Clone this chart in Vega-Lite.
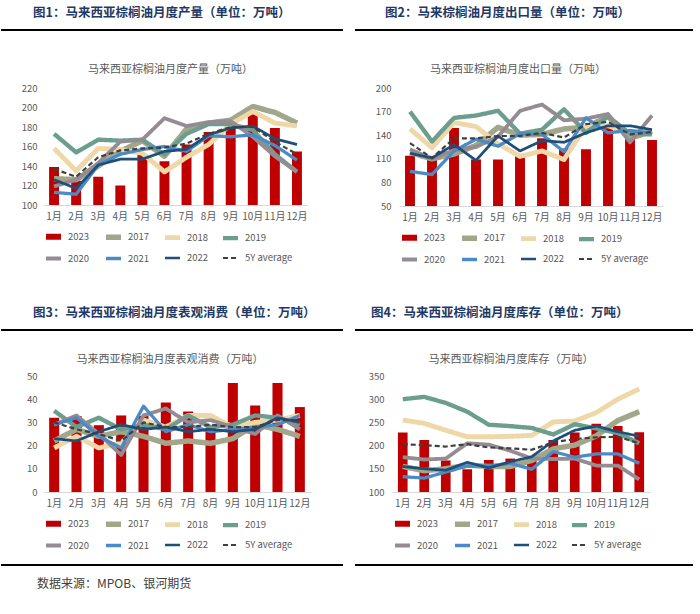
{
"$schema": "https://vega.github.io/schema/vega-lite/v6.json",
"padding": {"left": 0, "top": 6, "right": 0, "bottom": 0},
"background": "white",
"config": {
  "font": "Noto Sans CJK SC",
  "view": {"stroke": null},
  "title": {"font": "Noto Sans CJK SC", "fontSize": 12.5, "fontWeight": "bold", "color": "#1F3864"},
  "axis": {"labelFont": "Noto Sans CJK SC"},
  "legend": {"orient": "bottom", "direction": "horizontal", "columns": 4, "symbolType": "stroke", "symbolSize": 225, "labelFontSize": 9.5, "labelColor": "#595959", "labelOffset": 4, "columnPadding": 5, "rowPadding": 0, "offset": 5, "labelFont": "Noto Sans CJK SC", "title": null}
},
"datasets": {
  "prod": [
    {"m":"1月","s":"2023","v":139},{"m":"2月","s":"2023","v":125},{"m":"3月","s":"2023","v":129},{"m":"4月","s":"2023","v":120},{"m":"5月","s":"2023","v":152},{"m":"6月","s":"2023","v":145},{"m":"7月","s":"2023","v":162},{"m":"8月","s":"2023","v":175},{"m":"9月","s":"2023","v":182},{"m":"10月","s":"2023","v":193},{"m":"11月","s":"2023","v":179},{"m":"12月","s":"2023","v":155},
    {"m":"1月","s":"2017","v":127},{"m":"2月","s":"2017","v":126},{"m":"3月","s":"2017","v":140},{"m":"4月","s":"2017","v":155},{"m":"5月","s":"2017","v":166},{"m":"6月","s":"2017","v":150},{"m":"7月","s":"2017","v":178},{"m":"8月","s":"2017","v":184},{"m":"9月","s":"2017","v":187},{"m":"10月","s":"2017","v":201},{"m":"11月","s":"2017","v":195},{"m":"12月","s":"2017","v":184},
    {"m":"1月","s":"2018","v":158},{"m":"2月","s":"2018","v":135},{"m":"3月","s":"2018","v":158},{"m":"4月","s":"2018","v":157},{"m":"5月","s":"2018","v":153},{"m":"6月","s":"2018","v":134},{"m":"7月","s":"2018","v":149},{"m":"8月","s":"2018","v":162},{"m":"9月","s":"2018","v":183},{"m":"10月","s":"2018","v":196},{"m":"11月","s":"2018","v":184},{"m":"12月","s":"2018","v":181},
    {"m":"1月","s":"2019","v":173},{"m":"2月","s":"2019","v":154},{"m":"3月","s":"2019","v":167},{"m":"4月","s":"2019","v":166},{"m":"5月","s":"2019","v":167},{"m":"6月","s":"2019","v":152},{"m":"7月","s":"2019","v":173},{"m":"8月","s":"2019","v":183},{"m":"9月","s":"2019","v":183},{"m":"10月","s":"2019","v":177},{"m":"11月","s":"2019","v":152},{"m":"12月","s":"2019","v":134},
    {"m":"1月","s":"2020","v":119},{"m":"2月","s":"2020","v":126},{"m":"3月","s":"2020","v":143},{"m":"4月","s":"2020","v":165},{"m":"5月","s":"2020","v":167},{"m":"6月","s":"2020","v":189},{"m":"7月","s":"2020","v":181},{"m":"8月","s":"2020","v":185},{"m":"9月","s":"2020","v":186},{"m":"10月","s":"2020","v":170},{"m":"11月","s":"2020","v":150},{"m":"12月","s":"2020","v":134},
    {"m":"1月","s":"2021","v":113},{"m":"2月","s":"2021","v":111},{"m":"3月","s":"2021","v":141},{"m":"4月","s":"2021","v":152},{"m":"5月","s":"2021","v":157},{"m":"6月","s":"2021","v":160},{"m":"7月","s":"2021","v":155},{"m":"8月","s":"2021","v":171},{"m":"9月","s":"2021","v":170},{"m":"10月","s":"2021","v":172},{"m":"11月","s":"2021","v":161},{"m":"12月","s":"2021","v":146},
    {"m":"1月","s":"2022","v":126},{"m":"2月","s":"2022","v":117},{"m":"3月","s":"2022","v":141},{"m":"4月","s":"2022","v":147},{"m":"5月","s":"2022","v":147},{"m":"6月","s":"2022","v":155},{"m":"7月","s":"2022","v":157},{"m":"8月","s":"2022","v":172},{"m":"9月","s":"2022","v":179},{"m":"10月","s":"2022","v":181},{"m":"11月","s":"2022","v":168},{"m":"12月","s":"2022","v":162},
    {"m":"1月","s":"5Y average","v":137},{"m":"2月","s":"5Y average","v":129},{"m":"3月","s":"5Y average","v":149},{"m":"4月","s":"5Y average","v":156},{"m":"5月","s":"5Y average","v":158},{"m":"6月","s":"5Y average","v":159},{"m":"7月","s":"5Y average","v":163},{"m":"8月","s":"5Y average","v":173},{"m":"9月","s":"5Y average","v":180},{"m":"10月","s":"5Y average","v":180},{"m":"11月","s":"5Y average","v":165},{"m":"12月","s":"5Y average","v":152}
  ],
  "exp": [
    {"m":"1月","s":"2023","v":114},{"m":"2月","s":"2023","v":110},{"m":"3月","s":"2023","v":149},{"m":"4月","s":"2023","v":109},{"m":"5月","s":"2023","v":109},{"m":"6月","s":"2023","v":116},{"m":"7月","s":"2023","v":136},{"m":"8月","s":"2023","v":123},{"m":"9月","s":"2023","v":122},{"m":"10月","s":"2023","v":149},{"m":"11月","s":"2023","v":138},{"m":"12月","s":"2023","v":134},
    {"m":"1月","s":"2017","v":118},{"m":"2月","s":"2017","v":110},{"m":"3月","s":"2017","v":116},{"m":"4月","s":"2017","v":127},{"m":"5月","s":"2017","v":150},{"m":"6月","s":"2017","v":140},{"m":"7月","s":"2017","v":141},{"m":"8月","s":"2017","v":148},{"m":"9月","s":"2017","v":150},{"m":"10月","s":"2017","v":164},{"m":"11月","s":"2017","v":136},{"m":"12月","s":"2017","v":145},
    {"m":"1月","s":"2018","v":148},{"m":"2月","s":"2018","v":124},{"m":"3月","s":"2018","v":156},{"m":"4月","s":"2018","v":151},{"m":"5月","s":"2018","v":129},{"m":"6月","s":"2018","v":113},{"m":"7月","s":"2018","v":120},{"m":"8月","s":"2018","v":109},{"m":"9月","s":"2018","v":152},{"m":"10月","s":"2018","v":152},{"m":"11月","s":"2018","v":143},{"m":"12月","s":"2018","v":143},
    {"m":"1月","s":"2019","v":170},{"m":"2月","s":"2019","v":132},{"m":"3月","s":"2019","v":162},{"m":"4月","s":"2019","v":165},{"m":"5月","s":"2019","v":171},{"m":"6月","s":"2019","v":142},{"m":"7月","s":"2019","v":147},{"m":"8月","s":"2019","v":173},{"m":"9月","s":"2019","v":143},{"m":"10月","s":"2019","v":164},{"m":"11月","s":"2019","v":142},{"m":"12月","s":"2019","v":141},
    {"m":"1月","s":"2020","v":122},{"m":"2月","s":"2020","v":110},{"m":"3月","s":"2020","v":121},{"m":"4月","s":"2020","v":125},{"m":"5月","s":"2020","v":138},{"m":"6月","s":"2020","v":171},{"m":"7月","s":"2020","v":179},{"m":"8月","s":"2020","v":159},{"m":"9月","s":"2020","v":161},{"m":"10月","s":"2020","v":167},{"m":"11月","s":"2020","v":131},{"m":"12月","s":"2020","v":165},
    {"m":"1月","s":"2021","v":94},{"m":"2月","s":"2021","v":90},{"m":"3月","s":"2021","v":120},{"m":"4月","s":"2021","v":135},{"m":"5月","s":"2021","v":126},{"m":"6月","s":"2021","v":142},{"m":"7月","s":"2021","v":141},{"m":"8月","s":"2021","v":119},{"m":"9月","s":"2021","v":162},{"m":"10月","s":"2021","v":143},{"m":"11月","s":"2021","v":146},{"m":"12月","s":"2021","v":143},
    {"m":"1月","s":"2022","v":117},{"m":"2月","s":"2022","v":111},{"m":"3月","s":"2022","v":128},{"m":"4月","s":"2022","v":108},{"m":"5月","s":"2022","v":139},{"m":"6月","s":"2022","v":120},{"m":"7月","s":"2022","v":133},{"m":"8月","s":"2022","v":131},{"m":"9月","s":"2022","v":143},{"m":"10月","s":"2022","v":152},{"m":"11月","s":"2022","v":152},{"m":"12月","s":"2022","v":147},
    {"m":"1月","s":"5Y average","v":130},{"m":"2月","s":"5Y average","v":111},{"m":"3月","s":"5Y average","v":136},{"m":"4月","s":"5Y average","v":136},{"m":"5月","s":"5Y average","v":139},{"m":"6月","s":"5Y average","v":139},{"m":"7月","s":"5Y average","v":143},{"m":"8月","s":"5Y average","v":137},{"m":"9月","s":"5Y average","v":154},{"m":"10月","s":"5Y average","v":157},{"m":"11月","s":"5Y average","v":141},{"m":"12月","s":"5Y average","v":144}
  ],
  "cons": [
    {"m":"1月","s":"2023","v":32},{"m":"2月","s":"2023","v":32.8},{"m":"3月","s":"2023","v":28.8},{"m":"4月","s":"2023","v":33},{"m":"5月","s":"2023","v":32.8},{"m":"6月","s":"2023","v":38.6},{"m":"7月","s":"2023","v":34.7},{"m":"8月","s":"2023","v":27.8},{"m":"9月","s":"2023","v":47},{"m":"10月","s":"2023","v":37.3},{"m":"11月","s":"2023","v":47},{"m":"12月","s":"2023","v":36.6},
    {"m":"1月","s":"2017","v":22},{"m":"2月","s":"2017","v":27},{"m":"3月","s":"2017","v":24},{"m":"4月","s":"2017","v":26},{"m":"5月","s":"2017","v":24},{"m":"6月","s":"2017","v":21},{"m":"7月","s":"2017","v":22},{"m":"8月","s":"2017","v":21},{"m":"9月","s":"2017","v":23},{"m":"10月","s":"2017","v":29},{"m":"11月","s":"2017","v":27},{"m":"12月","s":"2017","v":24},
    {"m":"1月","s":"2018","v":19},{"m":"2月","s":"2018","v":24},{"m":"3月","s":"2018","v":19},{"m":"4月","s":"2018","v":21},{"m":"5月","s":"2018","v":31},{"m":"6月","s":"2018","v":28},{"m":"7月","s":"2018","v":33},{"m":"8月","s":"2018","v":33},{"m":"9月","s":"2018","v":28},{"m":"10月","s":"2018","v":30},{"m":"11月","s":"2018","v":31},{"m":"12月","s":"2018","v":33},
    {"m":"1月","s":"2019","v":35},{"m":"2月","s":"2019","v":28},{"m":"3月","s":"2019","v":32},{"m":"4月","s":"2019","v":27},{"m":"5月","s":"2019","v":29},{"m":"6月","s":"2019","v":27},{"m":"7月","s":"2019","v":33},{"m":"8月","s":"2019","v":28},{"m":"9月","s":"2019","v":29},{"m":"10月","s":"2019","v":33},{"m":"11月","s":"2019","v":32},{"m":"12月","s":"2019","v":29},
    {"m":"1月","s":"2020","v":29},{"m":"2月","s":"2020","v":33},{"m":"3月","s":"2020","v":25},{"m":"4月","s":"2020","v":16},{"m":"5月","s":"2020","v":33},{"m":"6月","s":"2020","v":36},{"m":"7月","s":"2020","v":30},{"m":"8月","s":"2020","v":31},{"m":"9月","s":"2020","v":28},{"m":"10月","s":"2020","v":25},{"m":"11月","s":"2020","v":33},{"m":"12月","s":"2020","v":27},
    {"m":"1月","s":"2021","v":29},{"m":"2月","s":"2021","v":32},{"m":"3月","s":"2021","v":24},{"m":"4月","s":"2021","v":19},{"m":"5月","s":"2021","v":37},{"m":"6月","s":"2021","v":26},{"m":"7月","s":"2021","v":29},{"m":"8月","s":"2021","v":26},{"m":"9月","s":"2021","v":27},{"m":"10月","s":"2021","v":28},{"m":"11月","s":"2021","v":29},{"m":"12月","s":"2021","v":33},
    {"m":"1月","s":"2022","v":23},{"m":"2月","s":"2022","v":22},{"m":"3月","s":"2022","v":26},{"m":"4月","s":"2022","v":29},{"m":"5月","s":"2022","v":27},{"m":"6月","s":"2022","v":28},{"m":"7月","s":"2022","v":26},{"m":"8月","s":"2022","v":27},{"m":"9月","s":"2022","v":26},{"m":"10月","s":"2022","v":27},{"m":"11月","s":"2022","v":32},{"m":"12月","s":"2022","v":30},
    {"m":"1月","s":"5Y average","v":30},{"m":"2月","s":"5Y average","v":27},{"m":"3月","s":"5Y average","v":25},{"m":"4月","s":"5Y average","v":22},{"m":"5月","s":"5Y average","v":30},{"m":"6月","s":"5Y average","v":28},{"m":"7月","s":"5Y average","v":28},{"m":"8月","s":"5Y average","v":29},{"m":"9月","s":"5Y average","v":28},{"m":"10月","s":"5Y average","v":28},{"m":"11月","s":"5Y average","v":31},{"m":"12月","s":"5Y average","v":31}
  ],
  "stock": [
    {"m":"1月","s":"2023","v":228},{"m":"2月","s":"2023","v":212},{"m":"3月","s":"2023","v":168},{"m":"4月","s":"2023","v":149},{"m":"5月","s":"2023","v":169},{"m":"6月","s":"2023","v":172},{"m":"7月","s":"2023","v":170},{"m":"8月","s":"2023","v":212},{"m":"9月","s":"2023","v":228},{"m":"10月","s":"2023","v":247},{"m":"11月","s":"2023","v":242},{"m":"12月","s":"2023","v":229},
    {"m":"1月","s":"2017","v":155},{"m":"2月","s":"2017","v":146},{"m":"3月","s":"2017","v":150},{"m":"4月","s":"2017","v":158},{"m":"5月","s":"2017","v":155},{"m":"6月","s":"2017","v":155},{"m":"7月","s":"2017","v":168},{"m":"8月","s":"2017","v":193},{"m":"9月","s":"2017","v":201},{"m":"10月","s":"2017","v":221},{"m":"11月","s":"2017","v":254},{"m":"12月","s":"2017","v":273},
    {"m":"1月","s":"2018","v":255},{"m":"2月","s":"2018","v":248},{"m":"3月","s":"2018","v":233},{"m":"4月","s":"2018","v":219},{"m":"5月","s":"2018","v":219},{"m":"6月","s":"2018","v":220},{"m":"7月","s":"2018","v":222},{"m":"8月","s":"2018","v":251},{"m":"9月","s":"2018","v":253},{"m":"10月","s":"2018","v":271},{"m":"11月","s":"2018","v":300},{"m":"12月","s":"2018","v":322},
    {"m":"1月","s":"2019","v":300},{"m":"2月","s":"2019","v":305},{"m":"3月","s":"2019","v":292},{"m":"4月","s":"2019","v":273},{"m":"5月","s":"2019","v":245},{"m":"6月","s":"2019","v":242},{"m":"7月","s":"2019","v":238},{"m":"8月","s":"2019","v":224},{"m":"9月","s":"2019","v":246},{"m":"10月","s":"2019","v":237},{"m":"11月","s":"2019","v":227},{"m":"12月","s":"2019","v":205},
    {"m":"1月","s":"2020","v":175},{"m":"2月","s":"2020","v":170},{"m":"3月","s":"2020","v":172},{"m":"4月","s":"2020","v":205},{"m":"5月","s":"2020","v":202},{"m":"6月","s":"2020","v":189},{"m":"7月","s":"2020","v":172},{"m":"8月","s":"2020","v":171},{"m":"9月","s":"2020","v":172},{"m":"10月","s":"2020","v":157},{"m":"11月","s":"2020","v":157},{"m":"12月","s":"2020","v":127},
    {"m":"1月","s":"2021","v":133},{"m":"2月","s":"2021","v":130},{"m":"3月","s":"2021","v":143},{"m":"4月","s":"2021","v":156},{"m":"5月","s":"2021","v":156},{"m":"6月","s":"2021","v":162},{"m":"7月","s":"2021","v":149},{"m":"8月","s":"2021","v":187},{"m":"9月","s":"2021","v":175},{"m":"10月","s":"2021","v":182},{"m":"11月","s":"2021","v":182},{"m":"12月","s":"2021","v":162},
    {"m":"1月","s":"2022","v":155},{"m":"2月","s":"2022","v":150},{"m":"3月","s":"2022","v":147},{"m":"4月","s":"2022","v":164},{"m":"5月","s":"2022","v":152},{"m":"6月","s":"2022","v":165},{"m":"7月","s":"2022","v":176},{"m":"8月","s":"2022","v":210},{"m":"9月","s":"2022","v":233},{"m":"10月","s":"2022","v":242},{"m":"11月","s":"2022","v":230},{"m":"12月","s":"2022","v":220},
    {"m":"1月","s":"5Y average","v":203},{"m":"2月","s":"5Y average","v":201},{"m":"3月","s":"5Y average","v":198},{"m":"4月","s":"5Y average","v":203},{"m":"5月","s":"5Y average","v":196},{"m":"6月","s":"5Y average","v":194},{"m":"7月","s":"5Y average","v":191},{"m":"8月","s":"5Y average","v":207},{"m":"9月","s":"5Y average","v":214},{"m":"10月","s":"5Y average","v":218},{"m":"11月","s":"5Y average","v":219},{"m":"12月","s":"5Y average","v":205}
  ],
  "line": [{"a": 0, "b": 1, "c": 0.5}]
},
"title": {"text": "数据来源：MPOB、银河期货", "orient": "bottom", "anchor": "start", "dx": 37, "offset": 13, "fontSize": 12, "fontWeight": "normal", "color": "#404040"},
"spacing": 38,
"align": "none",
"resolve": {"scale": {"color": "independent", "strokeDash": "independent", "strokeWidth": "independent"}, "legend": {"color": "independent", "strokeDash": "independent", "strokeWidth": "independent"}},
"vconcat": [
  {"spacing": 33,
   "align": "none",
   "resolve": {"scale": {"color": "independent", "strokeDash": "independent", "strokeWidth": "independent"}, "legend": {"color": "independent", "strokeDash": "independent", "strokeWidth": "independent"}},
   "vconcat": [
    {"spacing": 10, "hconcat": [
      {"width": 300, "height": 2, "title": {"text": "图1：马来西亚棕榈油月度产量（单位：万吨）", "anchor": "start", "frame": "group", "dx": -10, "offset": 10},
       "data": {"name": "line"}, "mark": {"type": "rule", "color": "#000000", "strokeWidth": 2},
       "encoding": {"x": {"field": "a", "type": "quantitative", "scale": {"domain": [0.122807, 1], "zero": false, "nice": false}, "axis": null}, "x2": {"field": "b"}, "y": {"field": "c", "type": "quantitative", "scale": {"domain": [0, 1], "nice": false}, "axis": null}}},
      {"width": 338, "height": 2, "title": {"text": "图2：马来棕榈油月度出口量（单位：万吨）", "anchor": "start", "frame": "group", "dx": 30, "offset": 10},
       "data": {"name": "line"}, "mark": {"type": "rule", "color": "#000000", "strokeWidth": 2},
       "encoding": {"x": {"field": "a", "type": "quantitative", "scale": {"domain": [0, 1], "nice": false}, "axis": null}, "x2": {"field": "b"}, "y": {"field": "c", "type": "quantitative", "scale": {"domain": [0, 1], "nice": false}, "axis": null}}}
    ]},
    {"spacing": 46,
     "resolve": {"scale": {"color": "independent", "strokeDash": "independent", "strokeWidth": "independent"}, "legend": {"color": "independent", "strokeDash": "independent", "strokeWidth": "independent"}},
     "hconcat": [
      {"width": 265, "height": 117, "data": {"name": "prod"},
       "title": {"text": "马来西亚棕榈油月度产量（万吨）", "anchor": "middle", "frame": "group", "dx": -5, "offset": 8, "fontSize": 11, "fontWeight": "normal", "color": "#595959"},
       "encoding": {
         "x": {"field": "m", "type": "ordinal", "sort": ["1月","2月","3月","4月","5月","6月","7月","8月","9月","10月","11月","12月"], "scale": {"paddingInner": 0.55, "paddingOuter": 0.275}, "axis": {"title": null, "labelAngle": 0, "ticks": false, "domainColor": "#D9D9D9", "labelColor": "#595959", "labelFontSize": 10, "labelPadding": 6}},
         "y": {"field": "v", "type": "quantitative", "scale": {"domain": [100, 220], "zero": false, "nice": false}, "axis": {"title": null, "values": [100,120,140,160,180,200,220], "domain": false, "ticks": false, "grid": false, "labelColor": "#595959", "labelFontSize": 9.5, "labelPadding": 6, "minExtent": 42, "maxExtent": 42}}
       },
       "layer": [
         {"transform": [{"filter": "datum.s === '2023'"}], "mark": {"type": "bar", "clip": true, "color": "#C00000"}},
         {"transform": [{"filter": "datum.s !== '2023'"}], "mark": {"type": "line", "strokeJoin": "round"},
          "encoding": {
            "color": {"field": "s", "type": "nominal", "scale": {"domain": ["2023","2017","2018","2019","2020","2021","2022","5Y average"], "range": ["#C00000","#A2A68A","#EFD8A7","#6B9E8E","#958C93","#4A8AC6","#1F4E79","#404040"]}, "legend": {"title": null}},
            "strokeDash": {"field": "s", "type": "nominal", "scale": {"domain": ["2023","2017","2018","2019","2020","2021","2022","5Y average"], "range": [[1,0],[1,0],[1,0],[1,0],[1,0],[1,0],[1,0],[5,3]]}, "legend": {"title": null}},
            "strokeWidth": {"field": "s", "type": "ordinal", "scale": {"domain": ["2023","2017","2018","2019","2020","2021","2022","5Y average"], "range": [6,2.2,2.2,2.2,2.2,2.2,2.2,2.4]}, "legend": {"title": null}}
          }}
       ]},
      {"width": 264, "height": 118, "data": {"name": "exp"},
       "title": {"text": "马来西亚棕榈油月度出口量（万吨）", "anchor": "middle", "frame": "group", "dx": -13, "offset": 8, "fontSize": 11, "fontWeight": "normal", "color": "#595959"},
       "encoding": {
         "x": {"field": "m", "type": "ordinal", "sort": ["1月","2月","3月","4月","5月","6月","7月","8月","9月","10月","11月","12月"], "scale": {"paddingInner": 0.55, "paddingOuter": 0.275}, "axis": {"title": null, "labelAngle": 0, "ticks": false, "domainColor": "#D9D9D9", "labelColor": "#595959", "labelFontSize": 10, "labelPadding": 6}},
         "y": {"field": "v", "type": "quantitative", "scale": {"domain": [50, 200], "zero": false, "nice": false}, "axis": {"title": null, "values": [50,80,110,140,170,200], "domain": false, "ticks": false, "grid": false, "labelColor": "#595959", "labelFontSize": 9.5, "labelPadding": 8, "minExtent": 45, "maxExtent": 45}}
       },
       "layer": [
         {"transform": [{"filter": "datum.s === '2023'"}], "mark": {"type": "bar", "clip": true, "color": "#C00000"}},
         {"transform": [{"filter": "datum.s !== '2023'"}], "mark": {"type": "line", "strokeJoin": "round"},
          "encoding": {
            "color": {"field": "s", "type": "nominal", "scale": {"domain": ["2023","2017","2018","2019","2020","2021","2022","5Y average"], "range": ["#C00000","#A2A68A","#EFD8A7","#6B9E8E","#958C93","#4A8AC6","#1F4E79","#404040"]}, "legend": {"title": null}},
            "strokeDash": {"field": "s", "type": "nominal", "scale": {"domain": ["2023","2017","2018","2019","2020","2021","2022","5Y average"], "range": [[1,0],[1,0],[1,0],[1,0],[1,0],[1,0],[1,0],[5,3]]}, "legend": {"title": null}},
            "strokeWidth": {"field": "s", "type": "ordinal", "scale": {"domain": ["2023","2017","2018","2019","2020","2021","2022","5Y average"], "range": [6,2.2,2.2,2.2,2.2,2.2,2.2,2.4]}, "legend": {"title": null}}
          }}
       ]}
    ]}
   ]},
  {"spacing": 10,
   "align": "none",
   "resolve": {"scale": {"color": "independent", "strokeDash": "independent", "strokeWidth": "independent"}, "legend": {"color": "independent", "strokeDash": "independent", "strokeWidth": "independent"}},
   "vconcat": [
    {"spacing": 10, "hconcat": [
      {"width": 300, "height": 28, "title": {"text": "图3：马来西亚棕榈油月度表观消费（单位：万吨）", "anchor": "start", "frame": "group", "dx": -10, "offset": -3},
       "data": {"name": "line"}, "mark": {"type": "rule", "color": "#000000", "strokeWidth": 2},
       "encoding": {"x": {"field": "a", "type": "quantitative", "scale": {"domain": [0.122807, 1], "zero": false, "nice": false}, "axis": null}, "x2": {"field": "b"}, "y": {"field": "c", "type": "quantitative", "scale": {"domain": [0, 1], "nice": false}, "axis": null}}},
      {"width": 338, "height": 28, "title": {"text": "图4：马来西亚棕榈油月度库存（单位：万吨）", "anchor": "start", "frame": "group", "dx": 16, "offset": -3},
       "data": {"name": "line"}, "mark": {"type": "rule", "color": "#000000", "strokeWidth": 2},
       "encoding": {"x": {"field": "a", "type": "quantitative", "scale": {"domain": [0, 1], "nice": false}, "axis": null}, "x2": {"field": "b"}, "y": {"field": "c", "type": "quantitative", "scale": {"domain": [0, 1], "nice": false}, "axis": null}}}
    ]},
    {"spacing": 46,
     "resolve": {"scale": {"color": "independent", "strokeDash": "independent", "strokeWidth": "independent"}, "legend": {"color": "independent", "strokeDash": "independent", "strokeWidth": "independent"}},
     "hconcat": [
      {"width": 268, "height": 116, "data": {"name": "cons"},
       "title": {"text": "马来西亚棕榈油月度表观消费（万吨）", "anchor": "middle", "frame": "group", "dx": -7, "offset": 6, "fontSize": 11, "fontWeight": "normal", "color": "#595959"},
       "encoding": {
         "x": {"field": "m", "type": "ordinal", "sort": ["1月","2月","3月","4月","5月","6月","7月","8月","9月","10月","11月","12月"], "scale": {"paddingInner": 0.55, "paddingOuter": 0.275}, "axis": {"title": null, "labelAngle": 0, "ticks": false, "domainColor": "#D9D9D9", "labelColor": "#595959", "labelFontSize": 10, "labelPadding": 6}},
         "y": {"field": "v", "type": "quantitative", "scale": {"domain": [0, 50], "nice": false}, "axis": {"title": null, "values": [0,10,20,30,40,50], "domain": false, "ticks": false, "grid": false, "labelColor": "#595959", "labelFontSize": 9.5, "labelPadding": 6, "minExtent": 42, "maxExtent": 42}}
       },
       "layer": [
         {"transform": [{"filter": "datum.s === '2023'"}], "mark": {"type": "bar", "clip": true, "color": "#C00000"}},
         {"transform": [{"filter": "datum.s !== '2023'"}], "mark": {"type": "line", "strokeJoin": "round"},
          "encoding": {
            "color": {"field": "s", "type": "nominal", "scale": {"domain": ["2023","2017","2018","2019","2020","2021","2022","5Y average"], "range": ["#C00000","#A2A68A","#EFD8A7","#6B9E8E","#958C93","#4A8AC6","#1F4E79","#404040"]}, "legend": {"title": null}},
            "strokeDash": {"field": "s", "type": "nominal", "scale": {"domain": ["2023","2017","2018","2019","2020","2021","2022","5Y average"], "range": [[1,0],[1,0],[1,0],[1,0],[1,0],[1,0],[1,0],[5,3]]}, "legend": {"title": null}},
            "strokeWidth": {"field": "s", "type": "ordinal", "scale": {"domain": ["2023","2017","2018","2019","2020","2021","2022","5Y average"], "range": [6,2.2,2.2,2.2,2.2,2.2,2.2,2.4]}, "legend": {"title": null}}
          }}
       ]},
      {"width": 258, "height": 116, "data": {"name": "stock"},
       "title": {"text": "马来西亚棕榈油月度库存（万吨）", "anchor": "middle", "frame": "group", "dx": -10, "offset": 6, "fontSize": 11, "fontWeight": "normal", "color": "#595959"},
       "encoding": {
         "x": {"field": "m", "type": "ordinal", "sort": ["1月","2月","3月","4月","5月","6月","7月","8月","9月","10月","11月","12月"], "scale": {"paddingInner": 0.55, "paddingOuter": 0.275}, "axis": {"title": null, "labelAngle": 0, "ticks": false, "domainColor": "#D9D9D9", "labelColor": "#595959", "labelFontSize": 10, "labelPadding": 6}},
         "y": {"field": "v", "type": "quantitative", "scale": {"domain": [100, 350], "zero": false, "nice": false}, "axis": {"title": null, "values": [100,150,200,250,300,350], "domain": false, "ticks": false, "grid": false, "labelColor": "#595959", "labelFontSize": 9.5, "labelPadding": 8, "minExtent": 35, "maxExtent": 35}}
       },
       "layer": [
         {"transform": [{"filter": "datum.s === '2023'"}], "mark": {"type": "bar", "clip": true, "color": "#C00000"}},
         {"transform": [{"filter": "datum.s !== '2023'"}], "mark": {"type": "line", "strokeJoin": "round"},
          "encoding": {
            "color": {"field": "s", "type": "nominal", "scale": {"domain": ["2023","2017","2018","2019","2020","2021","2022","5Y average"], "range": ["#C00000","#A2A68A","#EFD8A7","#6B9E8E","#958C93","#4A8AC6","#1F4E79","#404040"]}, "legend": {"title": null}},
            "strokeDash": {"field": "s", "type": "nominal", "scale": {"domain": ["2023","2017","2018","2019","2020","2021","2022","5Y average"], "range": [[1,0],[1,0],[1,0],[1,0],[1,0],[1,0],[1,0],[5,3]]}, "legend": {"title": null}},
            "strokeWidth": {"field": "s", "type": "ordinal", "scale": {"domain": ["2023","2017","2018","2019","2020","2021","2022","5Y average"], "range": [6,2.2,2.2,2.2,2.2,2.2,2.2,2.4]}, "legend": {"title": null}}
          }}
       ]}
    ]},
    {"spacing": 10, "hconcat": [
      {"width": 300, "height": 2, "data": {"name": "line"}, "mark": {"type": "rule", "color": "#000000", "strokeWidth": 2},
       "encoding": {"x": {"field": "a", "type": "quantitative", "scale": {"domain": [0.122807, 1], "zero": false, "nice": false}, "axis": null}, "x2": {"field": "b"}, "y": {"field": "c", "type": "quantitative", "scale": {"domain": [0, 1], "nice": false}, "axis": null}}},
      {"width": 338, "height": 2, "data": {"name": "line"}, "mark": {"type": "rule", "color": "#000000", "strokeWidth": 2},
       "encoding": {"x": {"field": "a", "type": "quantitative", "scale": {"domain": [0, 1], "nice": false}, "axis": null}, "x2": {"field": "b"}, "y": {"field": "c", "type": "quantitative", "scale": {"domain": [0, 1], "nice": false}, "axis": null}}}
    ]}
   ]}
]
}
